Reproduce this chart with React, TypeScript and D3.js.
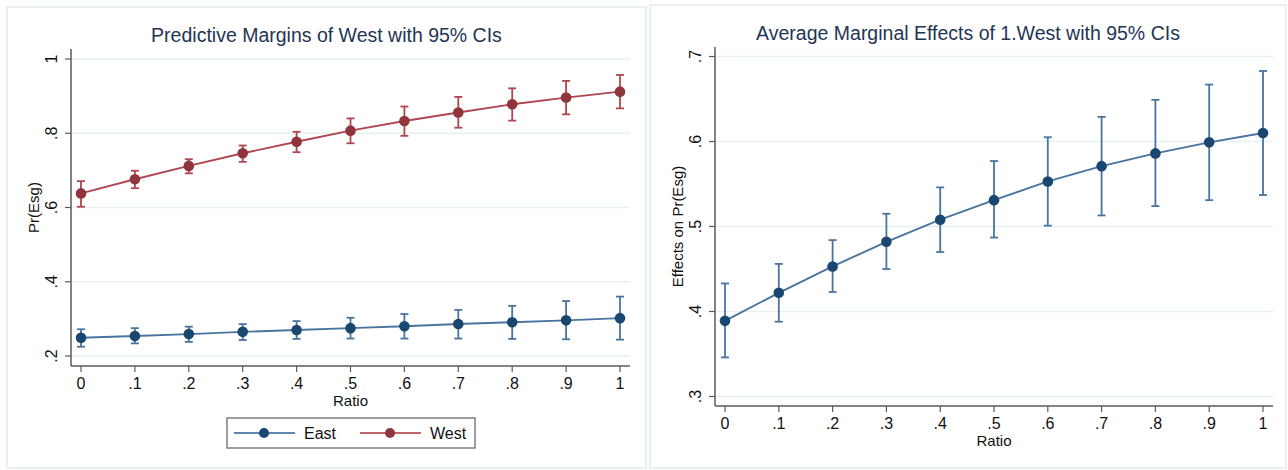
import React from 'react';
import * as d3 from 'd3';

// x values shared by both panels
const ratio = [0, 0.1, 0.2, 0.3, 0.4, 0.5, 0.6, 0.7, 0.8, 0.9, 1];
const xTickLabels = ['0', '.1', '.2', '.3', '.4', '.5', '.6', '.7', '.8', '.9', '1'];

// left panel: predictive margins
const eastMargin = [0.249, 0.254, 0.259, 0.265, 0.270, 0.275, 0.280, 0.286, 0.291, 0.296, 0.302];
const eastLo = [0.225, 0.234, 0.238, 0.243, 0.246, 0.247, 0.247, 0.247, 0.246, 0.245, 0.244];
const eastHi = [0.272, 0.275, 0.279, 0.286, 0.294, 0.303, 0.313, 0.324, 0.335, 0.348, 0.360];
const westMargin = [0.638, 0.676, 0.712, 0.746, 0.777, 0.807, 0.833, 0.856, 0.878, 0.896, 0.912];
const westLo = [0.602, 0.652, 0.692, 0.723, 0.749, 0.773, 0.793, 0.815, 0.834, 0.851, 0.867];
const westHi = [0.671, 0.699, 0.730, 0.767, 0.804, 0.840, 0.872, 0.898, 0.921, 0.941, 0.957];
const leftYTicks = [0.2, 0.4, 0.6, 0.8, 1];
const leftYLabels = ['.2', '.4', '.6', '.8', '1'];

// right panel: average marginal effects
const ame = [0.389, 0.422, 0.453, 0.482, 0.508, 0.531, 0.553, 0.571, 0.586, 0.599, 0.610];
const ameLo = [0.346, 0.388, 0.423, 0.450, 0.470, 0.487, 0.501, 0.513, 0.524, 0.531, 0.537];
const ameHi = [0.433, 0.456, 0.484, 0.515, 0.546, 0.577, 0.605, 0.629, 0.649, 0.667, 0.683];
const rightYTicks = [0.3, 0.4, 0.5, 0.6, 0.7];
const rightYLabels = ['.3', '.4', '.5', '.6', '.7'];

const FONT = 'Liberation Sans, Arial, Helvetica, sans-serif';
const NAVY = '#1a476f';
const NAVY_LINE = '#4a74a0';
const MAROON = '#90353b';
const MAROON_LINE = '#b0464f';
const TITLE = '#1f3554';
const GRID = '#e6eff1';
const AXIS = '#5a5a5a';

type Series = { mid: number[]; lo: number[]; hi: number[]; marker: string; line: string };

type PanelProps = {
  frame: [number, number, number, number];
  plot: { left: number; right: number; top: number; bottom: number; x0: number; x1: number };
  yDomain: [number, number];
  yRange: [number, number];
  yTicks: number[];
  yLabels: string[];
  title: string;
  titleY: number;
  yTitle: string;
  yTitleX: number;
  series: Series[];
};

const Panel = ({ frame, plot, yDomain, yRange, yTicks, yLabels, title, titleY, yTitle, yTitleX, series }: PanelProps) => {
  const x = d3.scaleLinear().domain([0, 1]).range([plot.x0, plot.x1]);
  const y = d3.scaleLinear().domain(yDomain).range(yRange);
  const line = d3.line<number>().x((d, i) => x(ratio[i])).y(d => y(d));
  const cx = (frame[0] + frame[2]) / 2;
  const midY = (plot.top + plot.bottom) / 2;

  return (
    <g fontFamily={FONT}>
      <rect x={frame[0]} y={frame[1]} width={frame[2] - frame[0]} height={frame[3] - frame[1]}
        fill="#fff" stroke="#e4ecee" strokeWidth={1.5} />
      <text x={cx} y={titleY} textAnchor="middle" fontSize={19.5} fill={TITLE}>{title}</text>

      {yTicks.map((t, i) => (
        <g key={t}>
          <line x1={plot.left} x2={plot.right} y1={y(t)} y2={y(t)} stroke={GRID} strokeWidth={1.5} />
          <line x1={plot.left - 6} x2={plot.left} y1={y(t)} y2={y(t)} stroke={AXIS} strokeWidth={1.2} />
          <text transform={`translate(${plot.left - 14},${y(t)}) rotate(-90)`} textAnchor="middle"
            fontSize={16} fill="#111">{yLabels[i]}</text>
        </g>
      ))}

      <line x1={plot.left} x2={plot.left} y1={plot.top} y2={plot.bottom} stroke={AXIS} strokeWidth={1.5} />
      <line x1={plot.left} x2={plot.right} y1={plot.bottom} y2={plot.bottom} stroke={AXIS} strokeWidth={1.5} />

      {ratio.map((r, i) => (
        <g key={r}>
          <line x1={x(r)} x2={x(r)} y1={plot.bottom} y2={plot.bottom + 6} stroke={AXIS} strokeWidth={1.2} />
          <text x={x(r)} y={plot.bottom + 23} textAnchor="middle" fontSize={16} fill="#111">{xTickLabels[i]}</text>
        </g>
      ))}
      <text x={x(0.5)} y={plot.bottom + 40} textAnchor="middle" fontSize={15} fill="#111">Ratio</text>
      <text transform={`translate(${yTitleX},${midY}) rotate(-90)`} textAnchor="middle" fontSize={15} fill="#111">{yTitle}</text>

      {series.map((s, si) => (
        <g key={si}>
          {ratio.map((r, i) => (
            <g key={r} stroke={s.line} strokeWidth={1.8}>
              <line x1={x(r)} x2={x(r)} y1={y(s.lo[i])} y2={y(s.hi[i])} />
              <line x1={x(r) - 4} x2={x(r) + 4} y1={y(s.lo[i])} y2={y(s.lo[i])} />
              <line x1={x(r) - 4} x2={x(r) + 4} y1={y(s.hi[i])} y2={y(s.hi[i])} />
            </g>
          ))}
          <path d={line(s.mid) || ''} fill="none" stroke={s.line} strokeWidth={1.9} />
          {s.mid.map((v, i) => (
            <circle key={i} cx={x(ratio[i])} cy={y(v)} r={5.3} fill={s.marker} />
          ))}
        </g>
      ))}
    </g>
  );
};

const Legend = () => {
  const items = [
    { label: 'East', marker: NAVY, line: '#5f86ad', x: 234 },
    { label: 'West', marker: MAROON, line: '#c0656c', x: 360 },
  ];
  return (
    <g fontFamily={FONT}>
      <rect x={227} y={418} width={248} height={30} fill="#fff" stroke="#6a6a6a" strokeWidth={1.3} />
      {items.map(it => (
        <g key={it.label}>
          <line x1={it.x} x2={it.x + 61} y1={433} y2={433} stroke={it.line} strokeWidth={1.8} />
          <circle cx={it.x + 30} cy={433} r={5} fill={it.marker} />
          <text x={it.x + 70} y={439} fontSize={16} fill="#111">{it.label}</text>
        </g>
      ))}
    </g>
  );
};

export default function App() {
  return (
    <div style={{ position: 'fixed', left: 0, top: 0 }}>
      <svg width={1288} height={470} style={{ display: 'block', background: '#fff' }}>
        <Panel
          frame={[7, 7, 646, 468]}
          plot={{ left: 71, right: 630, top: 49, bottom: 366, x0: 81, x1: 620 }}
          yDomain={[0.2, 1]}
          yRange={[356, 59]}
          yTicks={leftYTicks}
          yLabels={leftYLabels}
          title="Predictive Margins of West with 95% CIs"
          titleY={42}
          yTitle="Pr(Esg)"
          yTitleX={39}
          series={[
            { mid: eastMargin, lo: eastLo, hi: eastHi, marker: NAVY, line: NAVY_LINE },
            { mid: westMargin, lo: westLo, hi: westHi, marker: MAROON, line: MAROON_LINE },
          ]}
        />
        <Legend />
        <Panel
          frame={[650, 5, 1286, 468]}
          plot={{ left: 715, right: 1273, top: 47, bottom: 406, x0: 725, x1: 1263 }}
          yDomain={[0.3, 0.7]}
          yRange={[396.5, 56.5]}
          yTicks={rightYTicks}
          yLabels={rightYLabels}
          title="Average Marginal Effects of 1.West with 95% CIs"
          titleY={40}
          yTitle="Effects on Pr(Esg)"
          yTitleX={683}
          series={[{ mid: ame, lo: ameLo, hi: ameHi, marker: NAVY, line: NAVY_LINE }]}
        />
      </svg>
    </div>
  );
}
